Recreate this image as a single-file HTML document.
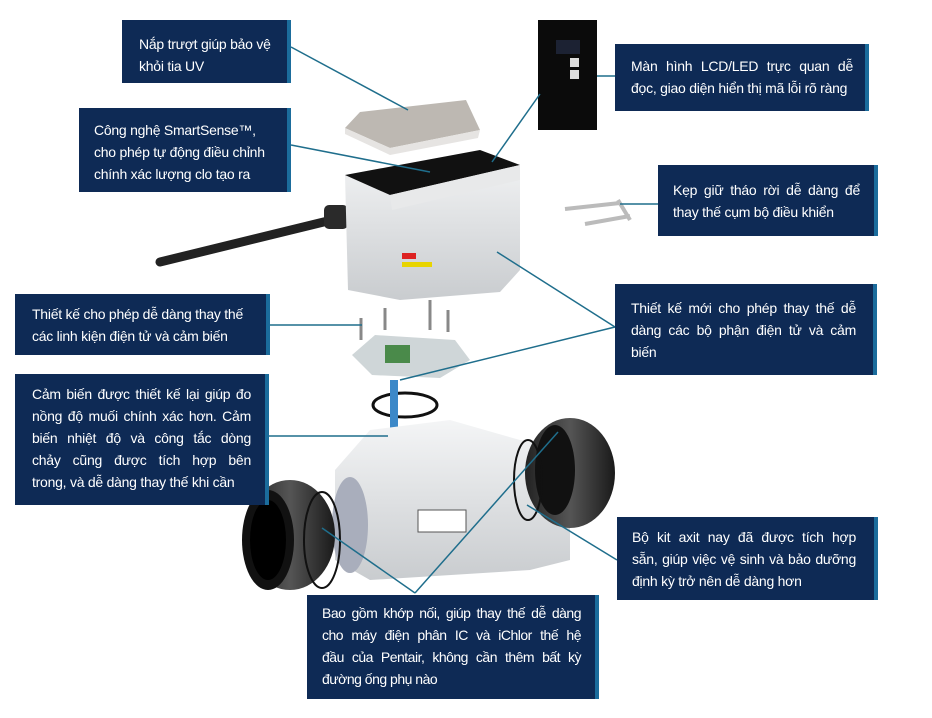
<!DOCTYPE html>
<html><head><meta charset="utf-8"><style>
body{margin:0;width:932px;height:718px;background:#fff;position:relative;overflow:hidden;font-family:"Liberation Sans","DejaVu Sans",sans-serif}
.b{position:absolute;background:#0e2a55;color:#fff;font-size:14px;letter-spacing:-0.25px;line-height:22px;box-sizing:border-box;border-right:4px solid #1b6c9c}
.b div{white-space:nowrap}
.b .j{text-align:justify;text-align-last:justify;white-space:normal}
svg{position:absolute;left:0;top:0}
</style></head><body>
<svg width="932" height="718">
<defs>
<linearGradient id="w" x1="0" y1="0" x2="0" y2="1"><stop offset="0" stop-color="#f4f5f6"/><stop offset="1" stop-color="#c9cccf"/></linearGradient>
<linearGradient id="d" x1="0" y1="0" x2="1" y2="0"><stop offset="0" stop-color="#222"/><stop offset=".5" stop-color="#555"/><stop offset="1" stop-color="#1a1a1a"/></linearGradient>
</defs>
<polygon points="345,128 360,112 466,100 480,130 390,148" fill="#bdb8b2"/>
<polygon points="345,128 390,148 480,130 478,138 390,155 345,134" fill="#e6e4e2"/>
<rect x="538" y="20" width="59" height="110" fill="#0b0b0b"/>
<rect x="556" y="40" width="24" height="14" fill="#1c2233"/>
<rect x="570" y="58" width="9" height="9" fill="#ddd"/><rect x="570" y="70" width="9" height="9" fill="#ddd"/>
<line x1="160" y1="262" x2="340" y2="218" stroke="#222" stroke-width="9" stroke-linecap="round"/>
<rect x="324" y="205" width="24" height="24" rx="5" fill="#2a2a2a"/>
<path d="M345,175 L480,150 L520,165 L520,270 L500,292 L400,300 L348,290 Z" fill="url(#w)"/>
<polygon points="345,175 480,150 520,165 390,195" fill="#111"/>
<polygon points="390,195 520,165 520,180 392,210" fill="#e8e9ea"/>
<rect x="402" y="253" width="14" height="6" fill="#d22"/><rect x="402" y="262" width="30" height="5" fill="#e8d400"/>
<g stroke="#bbb" stroke-width="4" fill="none"><line x1="565" y1="209" x2="620" y2="203"/><line x1="585" y1="224" x2="630" y2="216"/><line x1="618" y1="200" x2="630" y2="220"/></g>
<g stroke="#888" stroke-width="3"><line x1="361" y1="318" x2="361" y2="340"/><line x1="385" y1="308" x2="385" y2="330"/><line x1="430" y1="300" x2="430" y2="330"/><line x1="448" y1="310" x2="448" y2="332"/></g>
<polygon points="352,355 375,335 455,340 470,360 440,378 372,375" fill="#cfd6d8"/>
<rect x="385" y="345" width="25" height="18" fill="#4a8a4a"/>
<ellipse cx="405" cy="405" rx="32" ry="12" fill="none" stroke="#111" stroke-width="3"/>
<rect x="390" y="380" width="8" height="60" fill="#3c88c8"/>
<path d="M370,430 L450,420 L520,440 L570,445 L570,560 L530,570 L370,580 L335,560 L335,470 Z" fill="url(#w)"/>
<ellipse cx="350" cy="525" rx="18" ry="48" fill="#a9aebc"/>
<rect x="418" y="510" width="48" height="22" fill="#fff" stroke="#555"/>
<ellipse cx="290" cy="535" rx="45" ry="55" fill="url(#d)"/>
<ellipse cx="268" cy="540" rx="26" ry="50" fill="#111"/>
<ellipse cx="268" cy="540" rx="18" ry="40" fill="#000"/>
<ellipse cx="570" cy="473" rx="45" ry="55" fill="url(#d)"/>
<ellipse cx="555" cy="470" rx="20" ry="45" fill="#111"/>
<ellipse cx="322" cy="540" rx="18" ry="48" fill="none" stroke="#111" stroke-width="2"/>
<ellipse cx="528" cy="480" rx="14" ry="40" fill="none" stroke="#111" stroke-width="2"/>
<g stroke="#1f6e8c" stroke-width="1.5" fill="none">
<line x1="291" y1="47" x2="408" y2="110"/>
<line x1="291" y1="145" x2="430" y2="172"/>
<line x1="269" y1="325" x2="362" y2="325"/>
<line x1="268" y1="436" x2="388" y2="436"/>
<line x1="597" y1="76" x2="615" y2="76"/>
<line x1="540" y1="94" x2="492" y2="162"/>
<line x1="620" y1="204" x2="658" y2="204"/>
<line x1="615" y1="327" x2="497" y2="252"/>
<line x1="615" y1="327" x2="400" y2="380"/>
<line x1="617" y1="560" x2="527" y2="505"/>
<line x1="415" y1="593" x2="322" y2="528"/>
<line x1="415" y1="593" x2="558" y2="432"/>
</g>
</svg>
<div class="b" style="left:122px;top:20px;width:169px;height:63px;padding:13px 6px 0 17px"><div>Nắp trượt giúp bảo vệ</div><div>khỏi tia UV</div></div>
<div class="b" style="left:79px;top:108px;width:212px;height:84px;padding:11px 6px 0 15px"><div>Công nghệ SmartSense™,</div><div>cho phép tự động điều chỉnh</div><div>chính xác lượng clo tạo ra</div></div>
<div class="b" style="left:15px;top:294px;width:255px;height:61px;padding:9px 6px 0 17px"><div>Thiết kế cho phép dễ dàng thay thế</div><div>các linh kiện điện tử và cảm biến</div></div>
<div class="b" style="left:15px;top:374px;width:254px;height:131px;padding:9px 14px 0 17px"><div class="j">Cảm biến được thiết kế lại giúp đo</div><div class="j">nồng độ muối chính xác hơn. Cảm</div><div class="j">biến nhiệt độ và công tắc dòng</div><div class="j">chảy cũng được tích hợp bên</div><div>trong, và dễ dàng thay thế khi cần</div></div>
<div class="b" style="left:615px;top:44px;width:254px;height:67px;padding:11px 12px 0 16px"><div class="j">Màn hình LCD/LED trực quan dễ</div><div>đọc, giao diện hiển thị mã lỗi rõ ràng</div></div>
<div class="b" style="left:658px;top:165px;width:220px;height:71px;padding:14px 14px 0 15px"><div class="j">Kẹp giữ tháo rời dễ dàng để</div><div>thay thế cụm bộ điều khiển</div></div>
<div class="b" style="left:615px;top:284px;width:262px;height:91px;padding:13px 17px 0 16px"><div class="j">Thiết kế mới cho phép thay thế dễ</div><div class="j">dàng các bộ phận điện tử và cảm</div><div>biến</div></div>
<div class="b" style="left:617px;top:517px;width:261px;height:83px;padding:9px 18px 0 15px"><div class="j">Bộ kit axit nay đã được tích hợp</div><div class="j">sẵn, giúp việc vệ sinh và bảo dưỡng</div><div>định kỳ trở nên dễ dàng hơn</div></div>
<div class="b" style="left:307px;top:595px;width:292px;height:104px;padding:7px 14px 0 15px;letter-spacing:-0.5px"><div class="j">Bao gồm khớp nối, giúp thay thế dễ dàng</div><div class="j">cho máy điện phân IC và iChlor thế hệ</div><div class="j">đầu của Pentair, không cần thêm bất kỳ</div><div>đường ống phụ nào</div></div>
</body></html>
